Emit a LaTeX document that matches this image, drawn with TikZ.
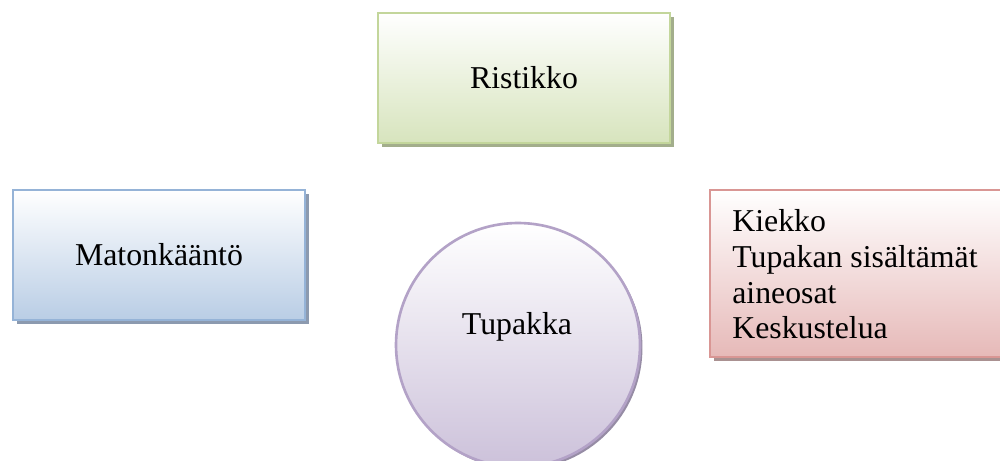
\documentclass[tikz,border=0pt]{standalone}
\usepackage{fontspec}
\setmainfont{Liberation Serif}
\usetikzlibrary{shadows}
\definecolor{grnB}{RGB}{195,214,155}
\definecolor{grnF}{RGB}{215,228,189}
\definecolor{grnS}{RGB}{163,174,140}
\definecolor{bluB}{RGB}{149,179,215}
\definecolor{bluF}{RGB}{185,205,229}
\definecolor{bluS}{RGB}{140,154,175}
\definecolor{redB}{RGB}{217,150,148}
\definecolor{redF}{RGB}{230,185,184}
\definecolor{redS}{RGB}{170,145,145}
\definecolor{purB}{RGB}{179,162,199}
\definecolor{purF}{RGB}{204,193,218}
\definecolor{purS}{RGB}{150,140,165}
\begin{document}
\begin{tikzpicture}[x=0.02cm,y=-0.02cm,
  txt/.style={inner sep=0pt, font=\fontsize{18.1}{20.3}\selectfont},
  box/.style={rectangle, line width=1.5pt, inner sep=0pt, txt},
  shad/.style={drop shadow={shadow xshift=0.08cm, shadow yshift=-0.08cm, fill=#1, opacity=1}}]
\useasboundingbox (0,0) rectangle (1000,460);
\node[box, minimum width=5.84cm, minimum height=2.6cm, draw=grnB, top color=white, bottom color=grnF, shad=grnS] (rist) at (524,78) {Ristikko};
\node[box, minimum width=5.84cm, minimum height=2.6cm, draw=bluB, top color=white, bottom color=bluF, shad=bluS] (maton) at (159,255) {Matonkääntö};
\node[box, minimum width=5.9cm, minimum height=3.34cm, draw=redB, top color=white, bottom color=redF, shad=redS] (kv) at (857.5,273.5) {};
\node[txt, anchor=north west, align=left] (kvtext) at (732,209.5) {Kiekko\\Tupakan sisältämät\\aineosat\\Keskustelua};
\node[circle, line width=1.5pt, minimum size=4.88cm, inner sep=0pt, draw=purB, top color=white, bottom color=purF, drop shadow={shadow xshift=0.05cm, shadow yshift=-0.05cm, fill=purS, opacity=1}] (tup) at (518,345) {};
\node[txt, anchor=base] (tuptext) at (517,334.5) {Tupakka};
\end{tikzpicture}
\end{document}
